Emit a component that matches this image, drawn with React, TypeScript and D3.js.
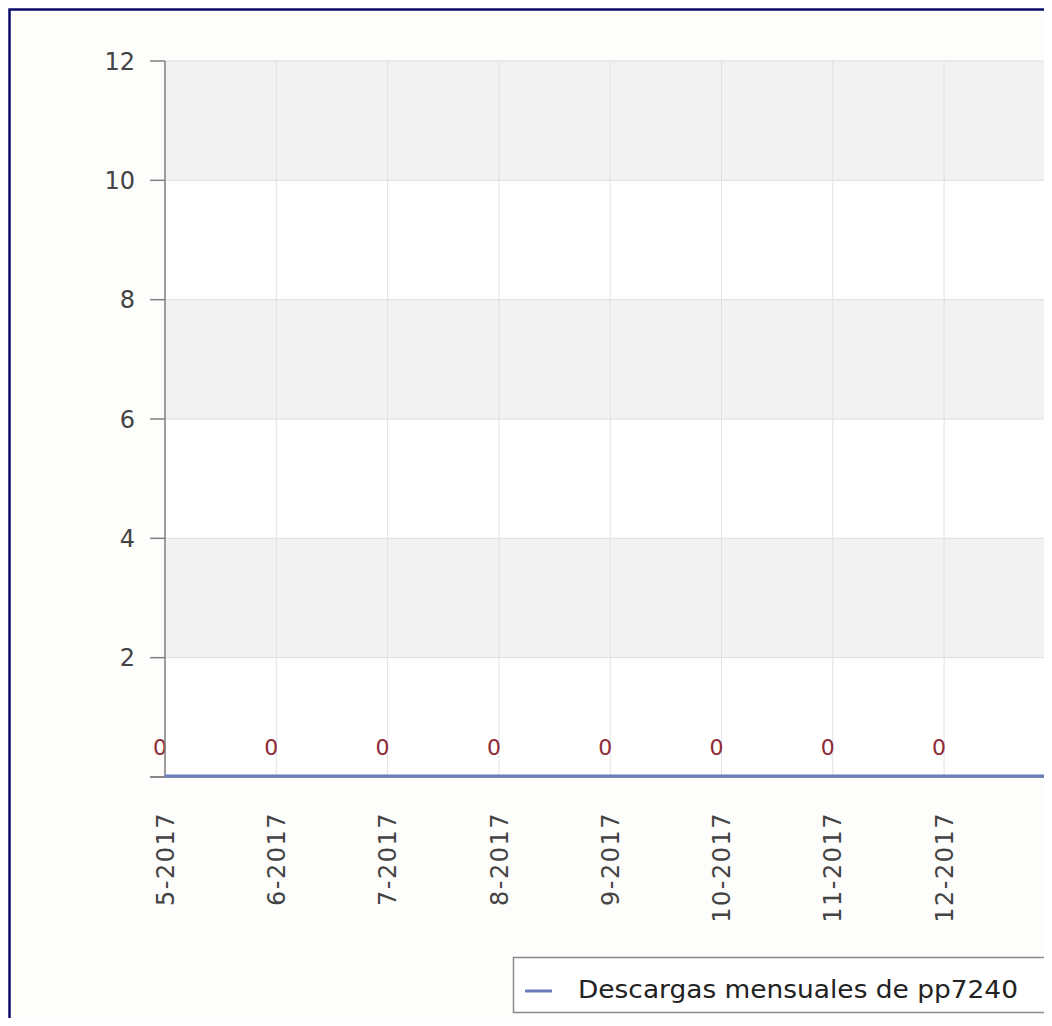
import * as d3 from 'd3'
import { FC } from 'react'

const months: string[] = [
    '5-2017', '6-2017', '7-2017', '8-2017', '9-2017', '10-2017',
    '11-2017', '12-2017', '1-2018', '2-2018', '3-2018', '4-2018',
]
const downloads: number[] = [0, 0, 0, 0, 0, 0, 0, 0, 0, 0, 0, 0]
const yTicks: number[] = [0, 2, 4, 6, 8, 10, 12]
const seriesName = 'Descargas mensuales de pp7240'

const App: FC = () => {
    const dimensions = { width: 1044, height: 1010 }
    const plot = { left: 157, top: 53, bottom: 769, step: 111.3 }
    const font = '"DejaVu Sans", sans-serif'
    const lineColor = '#6b7dbf'

    const x = d3.scalePoint<string>()
        .domain(months)
        .range([plot.left, plot.left + plot.step * (months.length - 1)])

    const y = d3.scaleLinear()
        .domain([0, 12])
        .range([plot.bottom, plot.top])

    const right = x(months[months.length - 1])! + 60

    const line = d3.line<number>()
        .x((_, i) => x(months[i])!)
        .y(d => y(d) - 1)

    // alternate bands, gray on top
    const bands = d3.pairs(yTicks).filter((_, i) => i % 2 === 1)

    return (
        <>
            <style>{'body{overflow:hidden}'}</style>
            <svg width={dimensions.width} height={dimensions.height} style={{ display: 'block' }}>
                <rect x={0} y={0} width={dimensions.width} height={dimensions.height} fill="#fdfdfb" />
                {/* plot background */}
                <rect x={plot.left} y={plot.top} width={right - plot.left} height={plot.bottom - plot.top} fill="#ffffff" />
                {bands.map(([a, b]) => (
                    <rect key={a} x={plot.left} y={y(b)} width={right - plot.left} height={y(a) - y(b)} fill="#f2f2f2" />
                ))}
                {yTicks.map(t => (
                    <line key={t} x1={plot.left} x2={right} y1={y(t)} y2={y(t)} stroke="#dcdcdc" />
                ))}
                {months.map(m => (
                    <line key={m} x1={x(m)} x2={x(m)} y1={plot.top} y2={plot.bottom} stroke="#e0e0e0" />
                ))}

                {/* value labels */}
                {downloads.map((v, i) => (
                    <text key={i} x={x(months[i])! - 5} y={y(v) - 22} textAnchor="middle"
                        fontFamily={font} fontSize={22} fill="#8e2b36">{v}</text>
                ))}

                {/* axes */}
                <line x1={plot.left} x2={plot.left} y1={plot.top} y2={plot.bottom} stroke="#808080" strokeWidth={1.5} />
                <line x1={plot.left - 15} x2={right} y1={plot.bottom} y2={plot.bottom} stroke="#808080" strokeWidth={1.5} />
                {yTicks.map(t => (
                    <g key={t}>
                        <line x1={plot.left - 15} x2={plot.left} y1={y(t)} y2={y(t)} stroke="#808080" strokeWidth={1.5} />
                        {t > 0 && (
                            <text x={plot.left - 30} y={y(t)} dy="0.36em" textAnchor="end"
                                fontFamily={font} fontSize={24} fill="#444">{t}</text>
                        )}
                    </g>
                ))}
                {months.map(m => (
                    <text key={m} transform={`translate(${x(m)},${plot.bottom + 35}) rotate(-90)`}
                        textAnchor="end" dy="0.36em" fontFamily={font} fontSize={24}
                        letterSpacing={1.5} fill="#444">{m}</text>
                ))}

                {/* series */}
                <path d={line(downloads)!} fill="none" stroke={lineColor} strokeWidth={3} />

                {/* legend */}
                <rect x={505.5} y={949.5} width={535} height={55} fill="#ffffff" stroke="#8a8a8a" strokeWidth={1.5} />
                <line x1={517} x2={544} y1={983} y2={983} stroke={lineColor} strokeWidth={3} />
                <text x={570} y={990} fontFamily={font} fontSize={24} fill="#222"
                    textLength={440} lengthAdjust="spacingAndGlyphs">{seriesName}</text>

                {/* outer frame */}
                <rect x={1.5} y={1.5} width={dimensions.width + 600} height={dimensions.height + 100}
                    fill="none" stroke="#0b0b6b" strokeWidth={2.5} />
            </svg>
        </>
    )
}

export default App
